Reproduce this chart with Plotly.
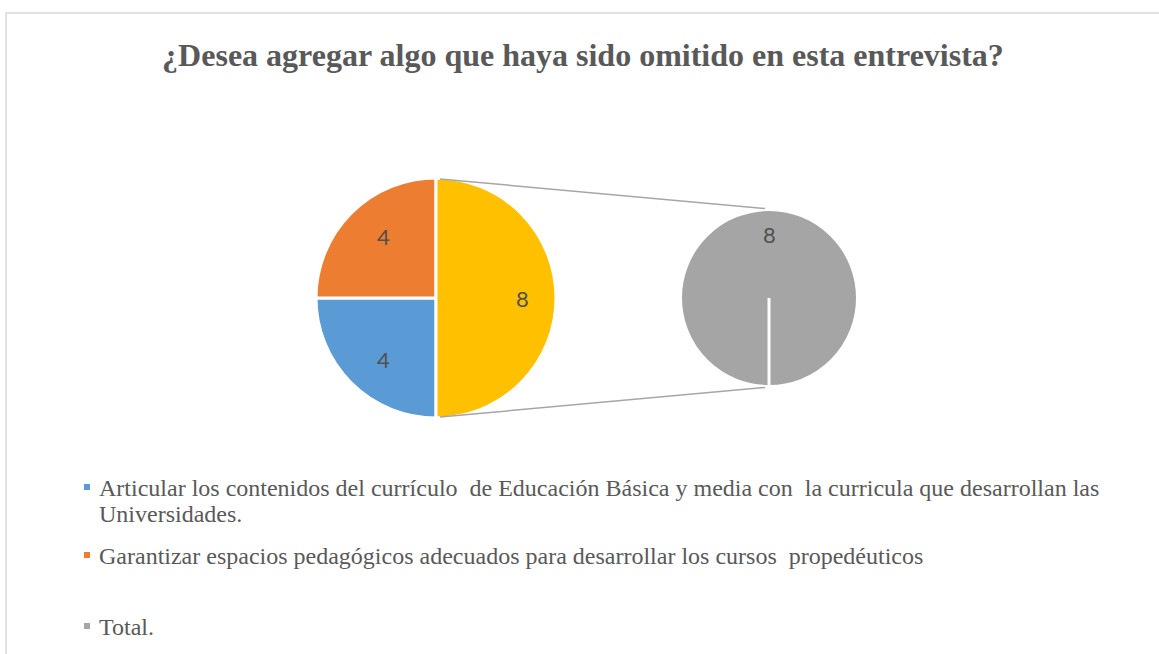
import math
import plotly.graph_objects as go

# data
labels = [
    "Articular los contenidos del currículo  de Educación Básica y media con  la curricula que desarrollan las Universidades.",
    "Garantizar espacios pedagógicos adecuados para desarrollar los cursos  propedéuticos",
    "Total.",
]
values = [4, 4, 8]
legend_lines = [
    ["Articular los contenidos del currículo  de Educación Básica y media con  la curricula que desarrollan las",
     "Universidades."],
    ["Garantizar espacios pedagógicos adecuados para desarrollar los cursos  propedéuticos"],
    ["Total."],
]
colors = ["#5B9BD5", "#ED7D31", "#A5A5A5"]
other_color = "#FFC000"
title = "¿Desea agregar algo que haya sido omitido en esta entrevista?"

W, H = 1159, 654
SERIF = "Liberation Serif, Times New Roman, serif"
SANS = "Lato, Calibri, sans-serif"


def px_dom(cx, cy, r):
    # pixel centre/radius -> paper domain
    return dict(x=[(cx - r) / W, (cx + r) / W],
                y=[(H - cy - r) / H, (H - cy + r) / H])


def px(x, y):
    return x / W, 1 - y / H


main_c, main_r = (436, 298), 120
sec_c, sec_r = (769, 298), 88.5
LABEL_FRAC = 0.72

fig = go.Figure()

main_vals = [values[0], values[1], values[2]]
main_cols = [colors[0], colors[1], other_color]

# main pie: first two items + aggregated "other" slice
fig.add_trace(go.Pie(
    values=main_vals,
    labels=["a", "b", "c"],
    marker=dict(colors=main_cols, line=dict(color="white", width=3)),
    sort=False, direction="clockwise", rotation=180,
    textinfo="none",
    domain=px_dom(*main_c, main_r),
    showlegend=False, hoverinfo="skip",
))

# secondary pie: the "Total." item
fig.add_trace(go.Pie(
    values=[values[2]],
    labels=[labels[2]],
    marker=dict(colors=[colors[2]], line=dict(color="white", width=3)),
    sort=False, direction="clockwise", rotation=180,
    textinfo="none",
    domain=px_dom(*sec_c, sec_r),
    showlegend=False, hoverinfo="skip",
))

shapes = []
# chart border
shapes.append(dict(type="rect", xref="paper", yref="paper",
                   x0=6 / W, x1=1.02, y0=-0.02, y1=1 - 13 / H,
                   line=dict(color="#D9D9D9", width=1.5)))
# connector lines
for sgn in (-1, 1):
    x0, y0 = px(main_c[0] + 4, main_c[1] + sgn * (main_r - 1))
    x1, y1 = px(sec_c[0] - 4, sec_c[1] + sgn * (sec_r + 1))
    shapes.append(dict(type="line", xref="paper", yref="paper",
                       x0=x0, y0=y0, x1=x1, y1=y1,
                       line=dict(color="#A6A6A6", width=1.5)))
# slice border inside the single-slice secondary pie
x0, y0 = px(*sec_c)
x1, y1 = px(sec_c[0], sec_c[1] + sec_r)
shapes.append(dict(type="line", xref="paper", yref="paper",
                   x0=x0, y0=y0, x1=x1, y1=y1,
                   line=dict(color="white", width=3)))

annotations = []


def add_labels(vals, centre, r, start_deg):
    # value labels at mid-angle of each slice (clockwise from start)
    tot = sum(vals)
    ang = start_deg
    for v in vals:
        span = 360 * v / tot
        mid = math.radians(ang + span / 2)
        lx = centre[0] + LABEL_FRAC * r * math.sin(mid)
        ly = centre[1] - LABEL_FRAC * r * math.cos(mid)
        ax, ay = px(lx, ly)
        annotations.append(dict(text=str(v), xref="paper", yref="paper",
                                x=ax, y=ay, showarrow=False,
                                font=dict(family=SANS, size=22, color="#505050")))
        ang += span


add_labels(main_vals, main_c, main_r, 180)
add_labels([values[2]], sec_c, sec_r, 180)

# legend
leg_base = [[497, 523], [565], [636]]
for lines, col, bases in zip(legend_lines, colors, leg_base):
    mx0, my0 = px(84, bases[0] - 13)
    mx1, my1 = px(90, bases[0] - 7)
    shapes.append(dict(type="rect", xref="paper", yref="paper",
                       x0=mx0, x1=mx1, y0=my0, y1=my1,
                       fillcolor=col, line=dict(width=0)))
    for txt, b in zip(lines, bases):
        ax, ay = px(97, b - 9)
        annotations.append(dict(text=txt, xref="paper", yref="paper",
                                x=ax, y=ay, showarrow=False,
                                xanchor="left", yanchor="middle", align="left",
                                font=dict(family=SERIF, size=24, color="#595959")))

fig.update_layout(
    width=W, height=H,
    margin=dict(l=0, r=0, t=0, b=0),
    paper_bgcolor="white", plot_bgcolor="white",
    title=dict(text="<b>" + title + "</b>", x=0.503, xanchor="center",
               y=1 - 55 / H, yanchor="middle",
               font=dict(family=SERIF, size=32, color="#595959")),
    shapes=shapes, annotations=annotations,
)

fig.write_html("out.html", config={"displayModeBar": False},
               post_script="document.body.style.margin='0';")
